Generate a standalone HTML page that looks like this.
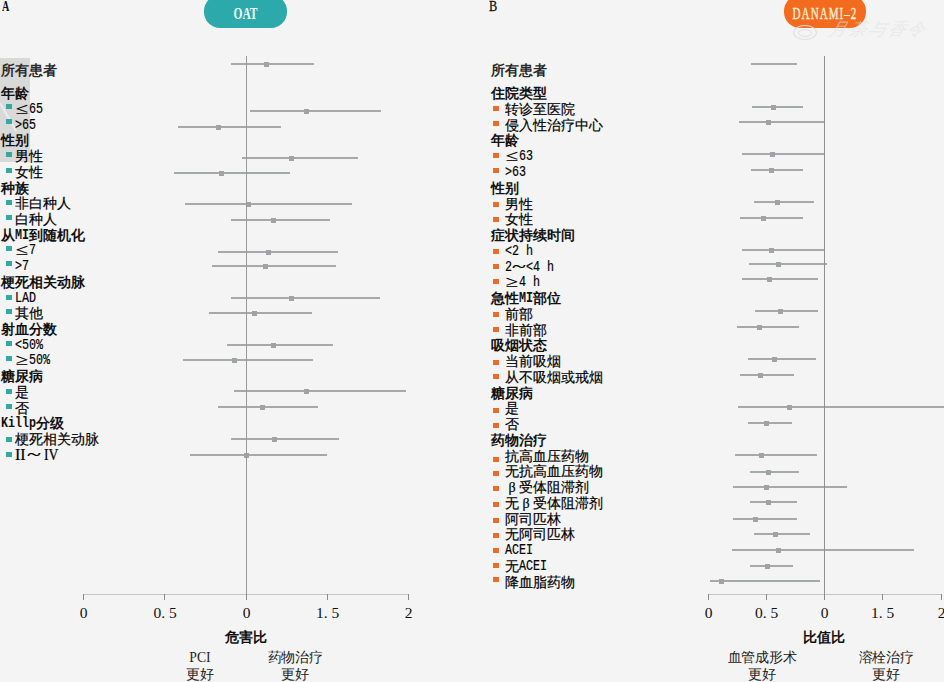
<!DOCTYPE html>
<html><head><meta charset="utf-8"><style>
html,body{margin:0;padding:0}
body{width:950px;height:682px;background:#f4f4f4;position:relative;overflow:hidden;font-family:"Liberation Serif",serif;color:#222}
body>div{position:absolute}
.it{font-family:"Liberation Serif",serif;font-size:14px;line-height:16px;white-space:nowrap;color:#000;-webkit-text-stroke:0.2px #000}
.a{display:inline-block;height:16px;vertical-align:top;position:relative}
.a>span{position:absolute;left:0;top:0;font-family:"Liberation Mono",monospace;font-size:15px;line-height:17px;transform:scaleX(0.778);transform-origin:0 0;white-space:pre}
.rn{display:inline-block;font-family:"Liberation Serif",serif;font-size:14px}
.hd .a{font-weight:bold}
.w{display:inline-block;width:14px;text-align:center;font-size:16px;line-height:16px;transform:scaleX(1.4);}
.hd{font-family:"Liberation Sans",sans-serif;font-weight:bold;font-size:14px;line-height:16px;white-space:nowrap;color:#111}
.al{font-family:"Liberation Sans",sans-serif;font-weight:bold;font-size:14px;line-height:16px;white-space:nowrap;color:#2a2a2a}
.tk{font-family:"Liberation Serif",serif;font-size:15.5px;line-height:18px;text-align:center;color:#111}
.ax{font-family:"Liberation Sans",sans-serif;font-weight:bold;font-size:14px;line-height:18px;text-align:center;color:#111}
.bt{font-family:"Liberation Serif",serif;font-size:13.7px;line-height:17px;text-align:center;color:#222}
.pill{border-radius:16px;text-align:center;}
.pill span{position:absolute;left:-20px;right:-20px;top:11px;white-space:nowrap;font-family:"Liberation Serif",serif;font-weight:bold;font-size:16px;line-height:16px;color:inherit;transform:scaleX(0.72)}
body i{font-style:normal;display:inline-block;width:14px;font-family:"Liberation Sans",sans-serif}
.bt i{width:13.7px}
.lt{font-family:"Liberation Serif",serif;font-weight:bold;font-size:14.5px;line-height:16px;color:#111;transform:scaleX(0.7);transform-origin:0 0}
</style></head><body>
<div style="left:0;top:58px;width:30px;height:104px;background:#d9d9d9"></div>
<svg style="position:absolute;left:0;top:0" width="40" height="170"><line x1="0" y1="103" x2="16" y2="131" stroke="#ececec" stroke-width="2"/></svg>
<div class="al" style="left:1px;top:61.6px"><i>所</i><i>有</i><i>患</i><i>者</i></div>
<div class="hd" style="left:1px;top:85.2px"><i>年</i><i>龄</i></div>
<div style="left:6px;top:104px;width:6px;height:5px;background:#35a8a2"></div>
<div class="it" style="left:15px;top:100.9px"><span class="w">≤</span><span class="a" style="width:14px"><span>65</span></span></div>
<div style="left:6px;top:119px;width:6px;height:5px;background:#35a8a2"></div>
<div class="it" style="left:15px;top:116.6px"><span class="a" style="width:21px"><span>&gt;65</span></span></div>
<div class="hd" style="left:1px;top:132.3px"><i>性</i><i>别</i></div>
<div style="left:6px;top:152px;width:6px;height:5px;background:#35a8a2"></div>
<div class="it" style="left:15px;top:148.1px"><i>男</i><i>性</i></div>
<div style="left:6px;top:168px;width:6px;height:5px;background:#35a8a2"></div>
<div class="it" style="left:15px;top:163.8px"><i>女</i><i>性</i></div>
<div class="hd" style="left:1px;top:179.5px"><i>种</i><i>族</i></div>
<div style="left:6px;top:200px;width:6px;height:5px;background:#35a8a2"></div>
<div class="it" style="left:15px;top:195.2px"><i>非</i><i>白</i><i>种</i><i>人</i></div>
<div style="left:6px;top:215px;width:6px;height:5px;background:#35a8a2"></div>
<div class="it" style="left:15px;top:210.9px"><i>白</i><i>种</i><i>人</i></div>
<div class="hd" style="left:1px;top:226.7px"><i>从</i><span class="a" style="width:14px"><span>MI</span></span><i>到</i><i>随</i><i>机</i><i>化</i></div>
<div style="left:6px;top:246px;width:6px;height:5px;background:#35a8a2"></div>
<div class="it" style="left:15px;top:242.4px"><span class="w">≤</span><span class="a" style="width:7px"><span>7</span></span></div>
<div style="left:6px;top:261px;width:6px;height:5px;background:#35a8a2"></div>
<div class="it" style="left:15px;top:258.1px"><span class="a" style="width:14px"><span>&gt;7</span></span></div>
<div class="hd" style="left:1px;top:273.8px"><i>梗</i><i>死</i><i>相</i><i>关</i><i>动</i><i>脉</i></div>
<div style="left:6px;top:295px;width:6px;height:5px;background:#35a8a2"></div>
<div class="it" style="left:15px;top:289.5px"><span class="a" style="width:21px"><span>LAD</span></span></div>
<div style="left:6px;top:309px;width:6px;height:5px;background:#35a8a2"></div>
<div class="it" style="left:15px;top:305.3px"><i>其</i><i>他</i></div>
<div class="hd" style="left:1px;top:321.0px"><i>射</i><i>血</i><i>分</i><i>数</i></div>
<div style="left:6px;top:341px;width:6px;height:5px;background:#35a8a2"></div>
<div class="it" style="left:15px;top:336.7px"><span class="a" style="width:28px"><span>&lt;50%</span></span></div>
<div style="left:6px;top:356px;width:6px;height:5px;background:#35a8a2"></div>
<div class="it" style="left:15px;top:352.4px"><span class="w">≥</span><span class="a" style="width:21px"><span>50%</span></span></div>
<div class="hd" style="left:1px;top:368.1px"><i>糖</i><i>尿</i><i>病</i></div>
<div style="left:6px;top:389px;width:6px;height:5px;background:#35a8a2"></div>
<div class="it" style="left:15px;top:383.9px"><i>是</i></div>
<div style="left:6px;top:404px;width:6px;height:5px;background:#35a8a2"></div>
<div class="it" style="left:15px;top:399.6px"><i>否</i></div>
<div class="hd" style="left:1px;top:415.3px"><span class="a" style="width:35px"><span>Killp</span></span><i>分</i><i>级</i></div>
<div style="left:6px;top:437px;width:6px;height:5px;background:#35a8a2"></div>
<div class="it" style="left:15px;top:431.0px"><i>梗</i><i>死</i><i>相</i><i>关</i><i>动</i><i>脉</i></div>
<div style="left:6px;top:452px;width:6px;height:5px;background:#35a8a2"></div>
<div class="it" style="left:15px;top:446.7px"><span class="rn" style="width:12px;font-size:16px;line-height:16px">II</span><span class="w" style="width:14px;transform:scaleX(1.6)">~</span><span class="rn" style="width:12px;margin-left:3px;font-size:16px;line-height:16px;transform:scaleX(0.85);transform-origin:0 0">IV</span></div>
<div class="al" style="left:491px;top:61.5px"><i>所</i><i>有</i><i>患</i><i>者</i></div>
<div class="hd" style="left:491px;top:85.1px"><i>住</i><i>院</i><i>类</i><i>型</i></div>
<div style="left:493px;top:106px;width:6px;height:5px;background:#ee6a2a"></div>
<div class="it" style="left:505px;top:100.9px"><i>转</i><i>诊</i><i>至</i><i>医</i><i>院</i></div>
<div style="left:493px;top:121px;width:6px;height:5px;background:#ee6a2a"></div>
<div class="it" style="left:505px;top:116.7px"><i>侵</i><i>入</i><i>性</i><i>治</i><i>疗</i><i>中</i><i>心</i></div>
<div class="hd" style="left:491px;top:132.4px"><i>年</i><i>龄</i></div>
<div style="left:493px;top:153px;width:6px;height:5px;background:#ee6a2a"></div>
<div class="it" style="left:505px;top:148.2px"><span class="w">≤</span><span class="a" style="width:14px"><span>63</span></span></div>
<div style="left:493px;top:168px;width:6px;height:5px;background:#ee6a2a"></div>
<div class="it" style="left:505px;top:163.9px"><span class="a" style="width:21px"><span>&gt;63</span></span></div>
<div class="hd" style="left:491px;top:179.7px"><i>性</i><i>别</i></div>
<div style="left:493px;top:202px;width:6px;height:5px;background:#ee6a2a"></div>
<div class="it" style="left:505px;top:195.5px"><i>男</i><i>性</i></div>
<div style="left:493px;top:217px;width:6px;height:5px;background:#ee6a2a"></div>
<div class="it" style="left:505px;top:211.2px"><i>女</i><i>性</i></div>
<div class="hd" style="left:491px;top:227.0px"><i>症</i><i>状</i><i>持</i><i>续</i><i>时</i><i>间</i></div>
<div style="left:493px;top:249px;width:6px;height:5px;background:#ee6a2a"></div>
<div class="it" style="left:505px;top:242.7px"><span class="a" style="width:28px"><span>&lt;2 h</span></span></div>
<div style="left:493px;top:264px;width:6px;height:5px;background:#ee6a2a"></div>
<div class="it" style="left:505px;top:258.5px"><span class="a" style="width:7px"><span>2</span></span><span class="w" style="width:14px;transform:scaleX(1.6)">~</span><span class="a" style="width:28px"><span>&lt;4 h</span></span></div>
<div style="left:493px;top:279px;width:6px;height:5px;background:#ee6a2a"></div>
<div class="it" style="left:505px;top:274.3px"><span class="w">≥</span><span class="a" style="width:21px"><span>4 h</span></span></div>
<div class="hd" style="left:491px;top:290.0px"><i>急</i><i>性</i><span class="a" style="width:14px"><span>MI</span></span><i>部</i><i>位</i></div>
<div style="left:493px;top:312px;width:6px;height:5px;background:#ee6a2a"></div>
<div class="it" style="left:505px;top:305.8px"><i>前</i><i>部</i></div>
<div style="left:493px;top:327px;width:6px;height:5px;background:#ee6a2a"></div>
<div class="it" style="left:505px;top:321.5px"><i>非</i><i>前</i><i>部</i></div>
<div class="hd" style="left:491px;top:337.3px"><i>吸</i><i>烟</i><i>状</i><i>态</i></div>
<div style="left:493px;top:360px;width:6px;height:5px;background:#ee6a2a"></div>
<div class="it" style="left:505px;top:353.1px"><i>当</i><i>前</i><i>吸</i><i>烟</i></div>
<div style="left:493px;top:374px;width:6px;height:5px;background:#ee6a2a"></div>
<div class="it" style="left:505px;top:368.8px"><i>从</i><i>不</i><i>吸</i><i>烟</i><i>或</i><i>戒</i><i>烟</i></div>
<div class="hd" style="left:491px;top:384.6px"><i>糖</i><i>尿</i><i>病</i></div>
<div style="left:493px;top:408px;width:6px;height:5px;background:#ee6a2a"></div>
<div class="it" style="left:505px;top:400.3px"><i>是</i></div>
<div style="left:493px;top:423px;width:6px;height:5px;background:#ee6a2a"></div>
<div class="it" style="left:505px;top:416.1px"><i>否</i></div>
<div class="hd" style="left:491px;top:431.9px"><i>药</i><i>物</i><i>治</i><i>疗</i></div>
<div style="left:493px;top:457px;width:6px;height:5px;background:#ee6a2a"></div>
<div class="it" style="left:505px;top:447.6px"><i>抗</i><i>高</i><i>血</i><i>压</i><i>药</i><i>物</i></div>
<div style="left:493px;top:471px;width:6px;height:5px;background:#ee6a2a"></div>
<div class="it" style="left:505px;top:463.4px"><i>无</i><i>抗</i><i>高</i><i>血</i><i>压</i><i>药</i><i>物</i></div>
<div style="left:493px;top:486px;width:6px;height:5px;background:#ee6a2a"></div>
<div class="it" style="left:505px;top:479.1px"><span class="rn" style="width:14px;text-align:center">β</span><i>受</i><i>体</i><i>阻</i><i>滞</i><i>剂</i></div>
<div style="left:493px;top:502px;width:6px;height:5px;background:#ee6a2a"></div>
<div class="it" style="left:505px;top:494.9px"><i>无</i><span class="rn" style="width:14px;text-align:center">β</span><i>受</i><i>体</i><i>阻</i><i>滞</i><i>剂</i></div>
<div style="left:493px;top:518px;width:6px;height:5px;background:#ee6a2a"></div>
<div class="it" style="left:505px;top:510.7px"><i>阿</i><i>司</i><i>匹</i><i>林</i></div>
<div style="left:493px;top:533px;width:6px;height:5px;background:#ee6a2a"></div>
<div class="it" style="left:505px;top:526.4px"><i>无</i><i>阿</i><i>司</i><i>匹</i><i>林</i></div>
<div style="left:493px;top:548px;width:6px;height:5px;background:#ee6a2a"></div>
<div class="it" style="left:505px;top:542.2px"><span class="a" style="width:28px"><span>ACEI</span></span></div>
<div style="left:493px;top:563px;width:6px;height:5px;background:#ee6a2a"></div>
<div class="it" style="left:505px;top:557.9px"><i>无</i><span class="a" style="width:28px"><span>ACEI</span></span></div>
<div style="left:493px;top:577px;width:6px;height:5px;background:#ee6a2a"></div>
<div class="it" style="left:505px;top:573.7px"><i>降</i><i>血</i><i>脂</i><i>药</i><i>物</i></div>
<div style="left:231px;top:63px;width:83px;height:2px;background:#a6a9a9"></div>
<div style="left:264px;top:62px;width:5px;height:5px;background:#9ea3a3"></div>
<div style="left:250px;top:110px;width:131px;height:2px;background:#a6a9a9"></div>
<div style="left:304px;top:109px;width:5px;height:5px;background:#9ea3a3"></div>
<div style="left:178px;top:126px;width:103px;height:2px;background:#a6a9a9"></div>
<div style="left:216px;top:125px;width:5px;height:5px;background:#9ea3a3"></div>
<div style="left:242px;top:157px;width:116px;height:2px;background:#a6a9a9"></div>
<div style="left:289px;top:156px;width:5px;height:5px;background:#9ea3a3"></div>
<div style="left:174px;top:172px;width:116px;height:2px;background:#a6a9a9"></div>
<div style="left:219px;top:171px;width:5px;height:5px;background:#9ea3a3"></div>
<div style="left:185px;top:203px;width:167px;height:2px;background:#a6a9a9"></div>
<div style="left:246px;top:202px;width:5px;height:5px;background:#9ea3a3"></div>
<div style="left:231px;top:219px;width:99px;height:2px;background:#a6a9a9"></div>
<div style="left:271px;top:218px;width:5px;height:5px;background:#9ea3a3"></div>
<div style="left:218px;top:251px;width:120px;height:2px;background:#a6a9a9"></div>
<div style="left:266px;top:250px;width:5px;height:5px;background:#9ea3a3"></div>
<div style="left:212px;top:265px;width:124px;height:2px;background:#a6a9a9"></div>
<div style="left:263px;top:264px;width:5px;height:5px;background:#9ea3a3"></div>
<div style="left:231px;top:297px;width:149px;height:2px;background:#a6a9a9"></div>
<div style="left:289px;top:296px;width:5px;height:5px;background:#9ea3a3"></div>
<div style="left:209px;top:312px;width:103px;height:2px;background:#a6a9a9"></div>
<div style="left:252px;top:311px;width:5px;height:5px;background:#9ea3a3"></div>
<div style="left:227px;top:344px;width:106px;height:2px;background:#a6a9a9"></div>
<div style="left:271px;top:343px;width:5px;height:5px;background:#9ea3a3"></div>
<div style="left:183px;top:359px;width:130px;height:2px;background:#a6a9a9"></div>
<div style="left:232px;top:358px;width:5px;height:5px;background:#9ea3a3"></div>
<div style="left:234px;top:390px;width:172px;height:2px;background:#a6a9a9"></div>
<div style="left:304px;top:389px;width:5px;height:5px;background:#9ea3a3"></div>
<div style="left:218px;top:406px;width:100px;height:2px;background:#a6a9a9"></div>
<div style="left:260px;top:405px;width:5px;height:5px;background:#9ea3a3"></div>
<div style="left:231px;top:438px;width:108px;height:2px;background:#a6a9a9"></div>
<div style="left:272px;top:437px;width:5px;height:5px;background:#9ea3a3"></div>
<div style="left:190px;top:454px;width:137px;height:2px;background:#a6a9a9"></div>
<div style="left:244px;top:453px;width:5px;height:5px;background:#9ea3a3"></div>
<div style="left:751px;top:63px;width:46px;height:2px;background:#a6a9a9"></div>
<div style="left:752px;top:106px;width:51px;height:2px;background:#a6a9a9"></div>
<div style="left:771px;top:105px;width:5px;height:5px;background:#9ea3a3"></div>
<div style="left:739px;top:121px;width:85px;height:2px;background:#a6a9a9"></div>
<div style="left:766px;top:120px;width:5px;height:5px;background:#9ea3a3"></div>
<div style="left:742px;top:153px;width:82px;height:2px;background:#a6a9a9"></div>
<div style="left:770px;top:152px;width:5px;height:5px;background:#9ea3a3"></div>
<div style="left:751px;top:169px;width:52px;height:2px;background:#a6a9a9"></div>
<div style="left:769px;top:168px;width:5px;height:5px;background:#9ea3a3"></div>
<div style="left:754px;top:201px;width:60px;height:2px;background:#a6a9a9"></div>
<div style="left:775px;top:200px;width:5px;height:5px;background:#9ea3a3"></div>
<div style="left:740px;top:217px;width:63px;height:2px;background:#a6a9a9"></div>
<div style="left:761px;top:216px;width:5px;height:5px;background:#9ea3a3"></div>
<div style="left:742px;top:249px;width:82px;height:2px;background:#a6a9a9"></div>
<div style="left:769px;top:248px;width:5px;height:5px;background:#9ea3a3"></div>
<div style="left:749px;top:263px;width:78px;height:2px;background:#a6a9a9"></div>
<div style="left:776px;top:262px;width:5px;height:5px;background:#9ea3a3"></div>
<div style="left:742px;top:278px;width:76px;height:2px;background:#a6a9a9"></div>
<div style="left:767px;top:277px;width:5px;height:5px;background:#9ea3a3"></div>
<div style="left:755px;top:310px;width:63px;height:2px;background:#a6a9a9"></div>
<div style="left:778px;top:309px;width:5px;height:5px;background:#9ea3a3"></div>
<div style="left:737px;top:326px;width:62px;height:2px;background:#a6a9a9"></div>
<div style="left:757px;top:325px;width:5px;height:5px;background:#9ea3a3"></div>
<div style="left:748px;top:358px;width:68px;height:2px;background:#a6a9a9"></div>
<div style="left:772px;top:357px;width:5px;height:5px;background:#9ea3a3"></div>
<div style="left:740px;top:374px;width:54px;height:2px;background:#a6a9a9"></div>
<div style="left:758px;top:373px;width:5px;height:5px;background:#9ea3a3"></div>
<div style="left:738px;top:406px;width:206px;height:2px;background:#a6a9a9"></div>
<div style="left:787px;top:405px;width:5px;height:5px;background:#9ea3a3"></div>
<div style="left:748px;top:422px;width:44px;height:2px;background:#a6a9a9"></div>
<div style="left:764px;top:421px;width:5px;height:5px;background:#9ea3a3"></div>
<div style="left:735px;top:454px;width:82px;height:2px;background:#a6a9a9"></div>
<div style="left:759px;top:453px;width:5px;height:5px;background:#9ea3a3"></div>
<div style="left:750px;top:471px;width:49px;height:2px;background:#a6a9a9"></div>
<div style="left:766px;top:470px;width:5px;height:5px;background:#9ea3a3"></div>
<div style="left:733px;top:486px;width:114px;height:2px;background:#a6a9a9"></div>
<div style="left:764px;top:485px;width:5px;height:5px;background:#9ea3a3"></div>
<div style="left:750px;top:501px;width:47px;height:2px;background:#a6a9a9"></div>
<div style="left:766px;top:500px;width:5px;height:5px;background:#9ea3a3"></div>
<div style="left:733px;top:518px;width:64px;height:2px;background:#a6a9a9"></div>
<div style="left:753px;top:517px;width:5px;height:5px;background:#9ea3a3"></div>
<div style="left:754px;top:533px;width:56px;height:2px;background:#a6a9a9"></div>
<div style="left:773px;top:532px;width:5px;height:5px;background:#9ea3a3"></div>
<div style="left:732px;top:549px;width:182px;height:2px;background:#a6a9a9"></div>
<div style="left:776px;top:548px;width:5px;height:5px;background:#9ea3a3"></div>
<div style="left:750px;top:565px;width:43px;height:2px;background:#a6a9a9"></div>
<div style="left:765px;top:564px;width:5px;height:5px;background:#9ea3a3"></div>
<div style="left:710px;top:580px;width:110px;height:2px;background:#a6a9a9"></div>
<div style="left:719px;top:579px;width:5px;height:5px;background:#9ea3a3"></div>
<div style="left:246px;top:56px;width:1px;height:538px;background:#999999"></div>
<div style="left:824px;top:56px;width:1px;height:538px;background:#909090"></div>
<div style="left:83px;top:594px;width:326px;height:1px;background:#c4c4c4"></div>
<div style="left:83px;top:594px;width:1px;height:6px;background:#8a8a8a"></div>
<div style="left:164px;top:594px;width:1px;height:6px;background:#8a8a8a"></div>
<div style="left:246px;top:594px;width:1px;height:6px;background:#8a8a8a"></div>
<div style="left:327px;top:594px;width:1px;height:6px;background:#8a8a8a"></div>
<div style="left:408px;top:594px;width:1px;height:6px;background:#8a8a8a"></div>
<div style="left:708px;top:594px;width:234px;height:1px;background:#c4c4c4"></div>
<div style="left:708px;top:594px;width:1px;height:6px;background:#8a8a8a"></div>
<div style="left:766px;top:594px;width:1px;height:6px;background:#8a8a8a"></div>
<div style="left:824px;top:594px;width:1px;height:6px;background:#8a8a8a"></div>
<div style="left:882px;top:594px;width:1px;height:6px;background:#8a8a8a"></div>
<div style="left:941px;top:594px;width:1px;height:6px;background:#8a8a8a"></div>
<div class="tk" style="left:53.5px;top:604px;width:60px">0</div>
<div class="tk" style="left:135px;top:604px;width:60px">0. 5</div>
<div class="tk" style="left:216.5px;top:604px;width:60px">0</div>
<div class="tk" style="left:297.5px;top:604px;width:60px">1. 5</div>
<div class="tk" style="left:378.5px;top:604px;width:60px">2</div>
<div class="tk" style="left:678.5px;top:604px;width:60px">0</div>
<div class="tk" style="left:736.5px;top:604px;width:60px">0. 5</div>
<div class="tk" style="left:794.5px;top:604px;width:60px">0</div>
<div class="tk" style="left:852.5px;top:604px;width:60px">1. 5</div>
<div class="tk" style="left:911.5px;top:604px;width:60px">2</div>
<div class="ax" style="left:196px;top:628px;width:100px"><i>危</i><i>害</i><i>比</i></div>
<div class="bt" style="left:160px;top:648.5px;width:80px">PCI<br><i>更</i><i>好</i></div>
<div class="bt" style="left:255px;top:648.5px;width:80px"><i>药</i><i>物</i><i>治</i><i>疗</i><br><i>更</i><i>好</i></div>
<div class="ax" style="left:774px;top:628px;width:100px"><i>比</i><i>值</i><i>比</i></div>
<div class="bt" style="left:712px;top:648.5px;width:100px"><i>血</i><i>管</i><i>成</i><i>形</i><i>术</i><br><i>更</i><i>好</i></div>
<div class="bt" style="left:836px;top:648.5px;width:100px"><i>溶</i><i>栓</i><i>治</i><i>疗</i><br><i>更</i><i>好</i></div>
<div class="pill" style="left:204px;top:-5px;width:83px;height:33px;background:#2ca9ab;color:#f4fffd"><span>OAT</span></div>
<div class="pill" style="left:784px;top:-5px;width:82px;height:33px;background:#f26b1e;color:#fdf0dc"><span style="transform:scaleX(0.65);letter-spacing:1.6px;font-weight:normal;font-size:17px;-webkit-text-stroke:0.4px #fdf0dc">DANAMI–2</span></div>
<div style="left:793px;top:25px;width:24px;height:15px;border:1.5px solid #e0e0e0;border-radius:50%;box-sizing:border-box"></div>
<div style="left:798px;top:29px;width:14px;height:8px;border:1px solid #e2e2e2;border-radius:50%;box-sizing:border-box"></div>
<div style="left:830px;top:18px;font-family:'Liberation Serif',serif;font-style:italic;font-size:17.5px;line-height:22px;letter-spacing:1.5px;color:#e2e2e2;opacity:0.55;transform:skewX(-15deg)">月荼与香令</div>
<div class="lt" style="left:2px;top:-2px">A</div>
<div class="lt" style="left:489px;top:-2px;transform:scaleX(0.85);font-weight:normal;-webkit-text-stroke:0.3px #111">B</div>
<div style="left:944px;top:0;width:6px;height:682px;background:#ffffff"></div>
</body></html>
